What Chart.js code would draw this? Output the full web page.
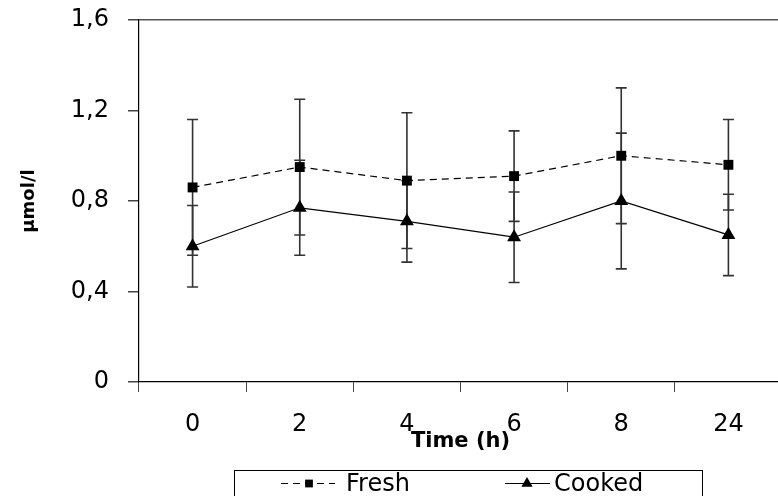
<!DOCTYPE html>
<html>
<head>
<meta charset="utf-8">
<script src="https://cdn.jsdelivr.net/npm/chart.js@4/dist/chart.umd.min.js"></script>
<style>
  html, body { margin: 0; padding: 0; overflow: hidden; background: #fff; }
  #wrap { width: 790px; height: 496px; }
</style>
</head>
<body>
<div id="wrap"><canvas id="ChartTime" width="790" height="496"></canvas></div>
<script>
const hours = ['0', '2', '4', '6', '8', '24'];
const yTicks = [0, 0.4, 0.8, 1.2, 1.6];
const yTickLabels = ['0', '0,4', '0,8', '1,2', '1,6'];

const fresh = [0.86, 0.95, 0.89, 0.91, 1.00, 0.96];
const freshSd = [0.30, 0.30, 0.30, 0.20, 0.30, 0.20];
const cooked = [0.60, 0.77, 0.71, 0.64, 0.80, 0.65];
const cookedSd = [0.18, 0.21, 0.18, 0.20, 0.30, 0.18];

const FONT = 'DejaVu Sans';
Chart.defaults.font.family = FONT;
Chart.defaults.color = '#000';

// error bars behind the markers
const errorBars = {
    id: 'errorBars',
    beforeDatasetsDraw(chart) {
        const ctx = chart.ctx;
        const y = chart.scales.y;
        ctx.save();
        ctx.strokeStyle = '#333';
        ctx.lineWidth = 1.6;
        chart.data.datasets.forEach((ds, di) => {
            const meta = chart.getDatasetMeta(di);
            meta.data.forEach((pt, i) => {
                const top = y.getPixelForValue(ds.data[i] + ds.sd[i]);
                const bot = y.getPixelForValue(ds.data[i] - ds.sd[i]);
                ctx.beginPath();
                ctx.moveTo(pt.x, top); ctx.lineTo(pt.x, bot);
                ctx.moveTo(pt.x - 5.5, top); ctx.lineTo(pt.x + 5.5, top);
                ctx.moveTo(pt.x - 5.5, bot); ctx.lineTo(pt.x + 5.5, bot);
                ctx.stroke();
            });
        });
        ctx.restore();
    }
};

// boxed legend below the axis title
const boxLegend = {
    id: 'boxLegend',
    afterDraw(chart) {
        const ctx = chart.ctx;
        ctx.save();
        ctx.strokeStyle = '#000';
        ctx.lineWidth = 1;
        ctx.strokeRect(234.5, 470.5, 468, 40);

        const items = [
            { ds: chart.data.datasets[0], x1: 281, x2: 335, mx: 309, tx: 346 },
            { ds: chart.data.datasets[1], x1: 505, x2: 550, mx: 527, tx: 554 }
        ];
        const ly = 483.5;
        items.forEach(it => {
            ctx.strokeStyle = '#000';
            ctx.lineWidth = 1;
            ctx.setLineDash(it.ds.borderDash || []);
            ctx.beginPath();
            ctx.moveTo(it.x1, ly); ctx.lineTo(it.x2, ly);
            ctx.stroke();
            ctx.setLineDash([]);
            ctx.fillStyle = '#000';
            Chart.helpers.drawPoint(ctx, {
                pointStyle: it.ds.pointStyle,
                radius: it.ds.pointRadius - 1.5,
                borderWidth: 0
            }, it.mx, ly);
            ctx.font = '24px ' + FONT;
            ctx.textBaseline = 'middle';
            ctx.textAlign = 'left';
            ctx.fillText(it.ds.label, it.tx, ly + 1);
        });
        ctx.restore();
    }
};

const ctx = document.getElementById('ChartTime').getContext('2d');
const myChart = new Chart(ctx, {
    type: 'line',
    data: {
        labels: hours,
        datasets: [{
            label: 'Fresh',
            data: fresh,
            sd: freshSd,
            borderColor: '#000',
            backgroundColor: '#000',
            borderWidth: 1.2,
            borderDash: [7, 5],
            pointStyle: 'rect',
            pointRadius: 7,
            pointBorderWidth: 0,
            pointBackgroundColor: '#000'
        }, {
            label: 'Cooked',
            data: cooked,
            sd: cookedSd,
            borderColor: '#000',
            backgroundColor: '#000',
            borderWidth: 1.2,
            pointStyle: 'triangle',
            pointRadius: 8,
            pointBorderWidth: 0,
            pointBackgroundColor: '#000'
        }]
    },
    options: {
        responsive: false,
        animation: false,
        layout: { padding: { left: 0, top: 20, right: 1, bottom: 0 } },
        plugins: {
            legend: { display: false },
            tooltip: { enabled: false }
        },
        scales: {
            x: {
                offset: true,
                grid: {
                    offset: true,
                    drawOnChartArea: false,
                    tickLength: 10,
                    tickColor: '#444'
                },
                border: { color: '#000', width: 1.2 },
                ticks: {
                    padding: 18,
                    font: { size: 24 },
                    color: '#000'
                },
                title: {
                    display: true,
                    text: 'Time (h)',
                    font: { size: 21, weight: 'bold' },
                    padding: { top: 0, bottom: 42 }
                },
                afterFit: scale => {
                    scale.height = 114;
                    scale.paddingLeft = 0;
                    scale.paddingRight = 0;
                }
            },
            y: {
                min: 0,
                max: 1.6,
                afterBuildTicks: scale => {
                    scale.ticks = yTicks.map(v => ({ value: v }));
                },
                grid: {
                    color: c => (c.tick && c.tick.value === 1.6) ? '#555' : 'rgba(0,0,0,0)',
                    lineWidth: 1.5,
                    tickLength: 11,
                    tickColor: '#444'
                },
                border: { color: '#000', width: 1.2 },
                ticks: {
                    padding: 19,
                    font: { size: 24 },
                    color: '#000',
                    callback: (value, index) => yTickLabels[index]
                },
                title: {
                    display: true,
                    text: 'µmol/l',
                    font: { size: 18, weight: 'bold' },
                    padding: { top: 19, bottom: 0 }
                },
                afterFit: scale => {
                    scale.width = 139;
                    scale.paddingTop = 14;
                    scale.paddingBottom = 14;
                }
            }
        }
    },
    plugins: [errorBars, boxLegend]
});
</script>
</body>
</html>
